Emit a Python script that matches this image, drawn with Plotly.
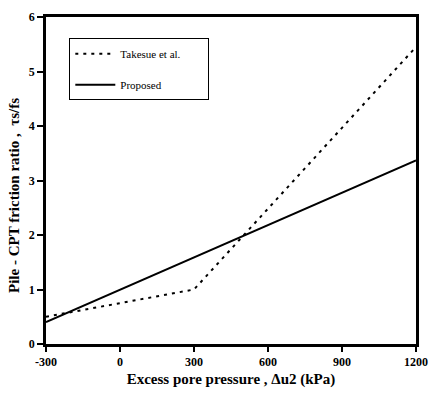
import plotly.graph_objects as go

takesue_x = [-300, 300, 1200]
takesue_y = [0.5, 1.0, 5.45]
proposed_x = [-300, 1200]
proposed_y = [0.4, 3.37]

x_ticks = [-300, 0, 300, 600, 900, 1200]
y_ticks = [0, 1, 2, 3, 4, 5, 6]

font_family = "Liberation Serif"
nb = "&nbsp;"

fig = go.Figure()
fig.add_trace(go.Scatter(x=takesue_x, y=takesue_y, mode="lines", name="Takesue et al." + nb * 8,
                         legendgroup="a",
                         line=dict(color="black", width=2, dash="3px,5px")))
fig.add_trace(go.Scatter(x=proposed_x, y=proposed_y, mode="lines", name="Proposed",
                         legendgroup="b",
                         line=dict(color="black", width=2)))

fig.update_layout(
    width=438, height=396,
    margin=dict(l=46, r=12, t=10, b=47),
    paper_bgcolor="white", plot_bgcolor="white",
    font=dict(family=font_family, size=11, color="black"),
    showlegend=True,
    legend=dict(x=0.063, y=0.935, xanchor="left", yanchor="top",
                bordercolor="black", borderwidth=1, bgcolor="white",
                font=dict(family=font_family, size=11, color="black"),
                tracegroupgap=12, itemwidth=40),
)
fig.update_xaxes(range=[-300, 1200], tickvals=x_ticks, ticktext=[str(v) for v in x_ticks],
                 showgrid=False, zeroline=False, showline=True, linecolor="black", linewidth=2.5,
                 mirror=True, ticks="outside", ticklen=5, tickwidth=2, tickcolor="black",
                 ticklabeloverflow="allow",
                 tickfont=dict(family=font_family, size=12, color="black", weight="bold"),
                 title=dict(text="<b>Excess pore pressure , Δu2 (kPa)</b>", standoff=6,
                            font=dict(family=font_family, size=15, color="black")))
fig.update_yaxes(range=[0, 6], tickvals=y_ticks,
                 showgrid=False, zeroline=False, showline=True, linecolor="black", linewidth=2.5,
                 mirror=True, ticks="outside", ticklen=6, tickwidth=2, tickcolor="black",
                 tickfont=dict(family=font_family, size=12, color="black", weight="bold"),
                 title=dict(text="<b>Pile - CPT friction ratio ,  τs/fs</b>" + nb * 8, standoff=6,
                            font=dict(family=font_family, size=15, color="black")))

fig.write_html("out.html", config={"displayModeBar": False},
               post_script="document.body.style.margin='0';")
